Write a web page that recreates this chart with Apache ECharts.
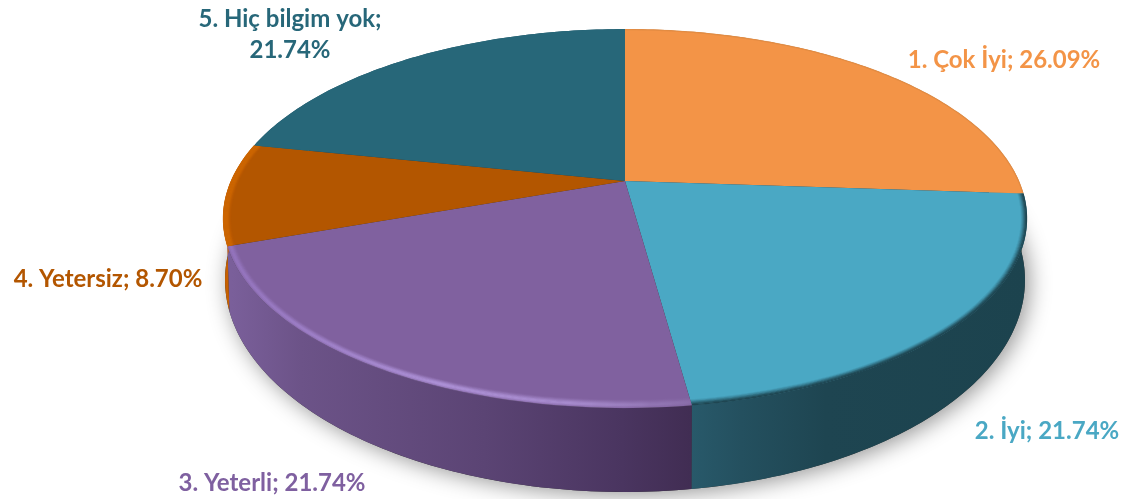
<!DOCTYPE html>
<html><head><meta charset="utf-8">
<style>html,body{margin:0;padding:0;background:#fff}#c{width:1126px;height:499px}</style>
<script src="https://cdn.jsdelivr.net/npm/echarts@6/dist/echarts.min.js"></script>
</head><body><div id="c"></div>
<script>
var categories = ['1. Çok İyi', '2. İyi', '3. Yeterli', '4. Yetersiz', '5. Hiç bilgim yok'];
var values = [26.09, 21.74, 21.74, 8.70, 21.74];
var faceColors = ['#F39447', '#4AA8C4', '#80619F', '#B35600', '#276779'];
var labelColors = ['#F39447', '#4AA8C4', '#7F60A0', '#B35600', '#276779'];

// geometry of the tilted disc
var APEX = {x: 625, y: 181}, A = 394, B = 182, K = 0.198;
var TOP = {cx: 625, cy: 218.5, rx: 402, ry: 189.5};
var BASE = {cx: 625, cy: 280, rx: 400, ry: 212};
var total = values.reduce(function (a, b) { return a + b; }, 0);

function startFrac(i) { var s = 0; for (var j = 0; j < i; j++) s += values[j]; return s / total; }
function topPoint(f) {
  var t = f * 2 * Math.PI, u = Math.sin(t), v = Math.cos(t), d = 1 + K * v;
  return [APEX.x + A * u / d, APEX.y - B * v / d];
}
function basePoint(f) {
  var p = topPoint(f);
  return [BASE.cx + BASE.rx * (p[0] - TOP.cx) / TOP.rx, BASE.cy + BASE.ry * (p[1] - TOP.cy) / TOP.ry];
}
function arc(f0, f1, fn) {
  var n = Math.max(2, Math.ceil((f1 - f0) * 360)), out = [];
  for (var i = 0; i <= n; i++) out.push(fn(f0 + (f1 - f0) * i / n));
  return out;
}
function inset(p, d) {
  var dx = p[0] - APEX.x, dy = p[1] - APEX.y, l = Math.sqrt(dx * dx + dy * dy), s = 1 - d / l;
  return [APEX.x + dx * s, APEX.y + dy * s];
}
function hGrad(x0, x1, stops) {
  return {type: 'linear', global: true, x: x0, y: 0, x2: x1, y2: 0,
    colorStops: stops.map(function (s) { return {offset: s[0], color: s[1]}; })};
}
var wallFills = [
  '#C97A35',
  hGrad(691, 1028, [[0, '#28596A'], [0.15, '#24505F'], [0.4, '#1E4551'], [1, '#1C434E']]),
  hGrad(232, 691, [[0, '#7A5F9A'], [0.15, '#6C5388'], [0.55, '#5B4474'], [0.85, '#4A3560'], [1, '#412D53']]),
  '#C66000',
  '#1F5566'
];
var rims = [
  {stroke: '#C47A38', layers: [[0, 0.3]]},
  {stroke: '#1F4652', layers: [[0, 1], [1, 0.85], [2, 0.6], [3, 0.4], [4, 0.22], [5, 0.1]]},
  {stroke: hGrad(228, 691, [[0, '#9474BE'], [0.45, '#AE92D8'], [0.75, '#A98DD0'], [1, '#8A6EAA']]),
    layers: [[0, 0.3], [1, 0.55], [2, 0.85], [3, 0.9], [4, 0.7], [5, 0.45], [6, 0.25], [7, 0.1]]},
  {stroke: '#CC6500', layers: [[0, 1], [1, 1], [2, 1], [3, 1], [4, 0.9], [5, 0.6], [6, 0.3], [7, 0.12]]},
  {stroke: '#276779', layers: []}
];
// label anchors (centre of the text)
var labelBoxes = [[1004, 60], [1047, 431], [272, 483], [108, 279], [290, 35]];

var seriesData = categories.map(function (c, i) { return {name: c, value: [values[i], i]}; });

function baseItem(params, api) {
  if (api.value(1) !== 0) return null;
  return {type: 'polygon', shape: {points: arc(0, 1, basePoint)},
    style: {fill: '#333', shadowColor: 'rgba(0,0,0,0.42)', shadowBlur: 22, shadowOffsetX: 4, shadowOffsetY: 3}};
}
function wallItem(params, api) {
  var i = api.value(1), f0 = startFrac(i), f1 = f0 + api.value(0) / total;
  var pts = arc(f0, f1, topPoint).concat(arc(f0, f1, basePoint).reverse());
  return {type: 'polygon', shape: {points: pts}, style: {fill: wallFills[i]}};
}
function faceItem(params, api) {
  var i = api.value(1), f0 = startFrac(i), f1 = f0 + api.value(0) / total;
  var edge = arc(f0, f1, topPoint);
  var children = [{type: 'polygon', shape: {points: [[APEX.x, APEX.y]].concat(edge)},
    style: {fill: faceColors[i]}}];
  rims[i].layers.slice().reverse().forEach(function (l) {
    children.push({type: 'polyline',
      shape: {points: edge.map(function (p) { return inset(p, l[0] + 0.5); })},
      style: {fill: null, stroke: rims[i].stroke, lineWidth: 1.4, opacity: l[1]}});
  });
  return {type: 'group', children: children};
}
function labelItem(params, api) {
  var i = api.value(1), pct = api.value(0).toFixed(2) + '%';
  var text = categories[i] + ';' + (i === 4 ? '\n' : ' ') + pct;
  return {type: 'text', style: {text: text, x: labelBoxes[i][0], y: labelBoxes[i][1],
    align: 'center', verticalAlign: 'middle', fill: labelColors[i], lineHeight: 31,
    font: 'bold 24px Lato, "Open Sans", sans-serif'}};
}
function layer(fn, z) {
  return {type: 'custom', coordinateSystem: 'none', renderItem: fn, data: seriesData, z: z,
    silent: true, animation: false, clip: false};
}
var chart = echarts.init(document.getElementById('c'), null, {renderer: 'canvas'});
chart.setOption({
  backgroundColor: '#fff', animation: false,
  series: [layer(baseItem, 1), layer(wallItem, 2), layer(faceItem, 3), layer(labelItem, 4)]
});
</script></body></html>
